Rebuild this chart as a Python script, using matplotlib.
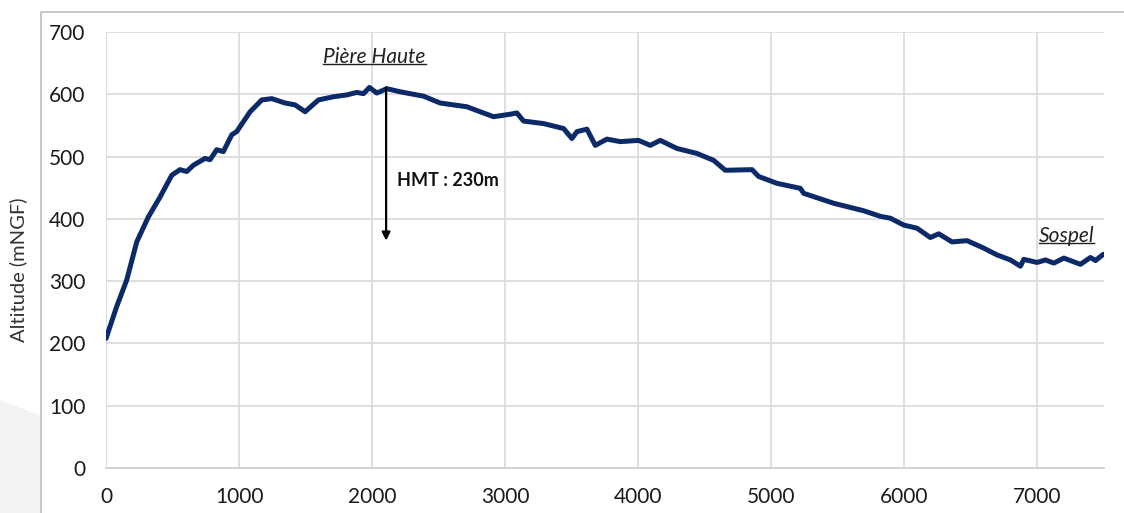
import matplotlib
matplotlib.use("Agg")
import matplotlib.pyplot as plt
from matplotlib.lines import Line2D
from matplotlib.patches import Polygon

plt.rcParams['font.family'] = ['Lato', 'DejaVu Sans']

# Longitudinal profile: distance (m) and altitude (mNGF)
distance = [0, 80, 156, 231, 318, 406, 494, 556, 607, 656, 744, 782, 832, 882,
            945, 982, 1083, 1171, 1246, 1346, 1421, 1496, 1597, 1709, 1810,
            1885, 1935, 1980, 2035, 2110, 2211, 2386, 2511, 2712, 2912, 3038,
            3088, 3138, 3288, 3439, 3501, 3539, 3614, 3677, 3764, 3865, 4002,
            4090, 4165, 4291, 4441, 4566, 4654, 4855, 4905, 5043, 5218, 5243,
            5469, 5694, 5820, 5895, 5995, 6095, 6195, 6258, 6358, 6471, 6596,
            6697, 6797, 6872, 6897, 6997, 7060, 7123, 7198, 7323, 7398, 7436,
            7494]
altitude = [208, 259, 302, 363, 403, 435, 470, 479, 476, 486, 497, 495, 511, 508,
            535, 540, 572, 591, 593, 586, 583, 572, 591, 596, 599,
            603, 601, 611, 602, 609, 604, 597, 586, 580, 564, 568,
            570, 557, 553, 545, 529, 540, 544, 518, 528, 524, 526,
            518, 526, 513, 505, 494, 478, 479, 468, 457, 449, 441,
            425, 413, 404, 401, 390, 385, 370, 376, 363, 365, 353,
            342, 334, 324, 335, 330, 334, 329, 337, 327, 338, 333,
            343]

x_ticks = [0, 1000, 2000, 3000, 4000, 5000, 6000, 7000]
y_ticks = [0, 100, 200, 300, 400, 500, 600, 700]

hmt_x = 2105
hmt_top = 611
hmt_bottom = 365
hmt_label = "HMT : 230m"
summit_label = "Pière Haute"
end_label = "Sospel"

fig = plt.figure(figsize=(11.24, 5.13), dpi=100)
ax = fig.add_axes([106 / 1124, 1 - 468 / 513, 998 / 1124, 436 / 513])

# Background decoration and chart frame
fig.patches.append(Polygon([[0, 1 - 400 / 513], [41 / 1124, 1 - 416 / 513],
                            [41 / 1124, 0], [0, 0]], closed=True,
                           transform=fig.transFigure, facecolor='#f3f3f3',
                           edgecolor='none', zorder=0))
fig.lines.append(Line2D([41 / 1124, 41 / 1124, 1.0], [0, 1 - 12 / 513, 1 - 12 / 513],
                        transform=fig.transFigure, color='#bfbfbf', lw=1.2))

ax.plot(distance, altitude, color='#0c2a68', lw=3.6, solid_joinstyle='round',
        solid_capstyle='round', zorder=3)

ax.set_xlim(0, 7500)
ax.set_ylim(0, 700)
ax.set_xticks(x_ticks)
ax.set_yticks(y_ticks)
ax.tick_params(axis='both', length=0, labelsize=15, colors='#1a1a1a')
ax.tick_params(axis='x', pad=14)
ax.tick_params(axis='y', pad=15)
ax.grid(True, color='#d9d9d9', lw=1.2)
ax.set_axisbelow(True)
for side in ['left', 'right', 'top']:
    ax.spines[side].set_visible(False)
ax.spines['bottom'].set_color('#d0d0d0')
ax.spines['bottom'].set_linewidth(1.3)
ax.set_ylabel("Altitude (mNGF)", fontsize=14.5, color='#333333')
ax.yaxis.set_label_coords(-79 / 998, 0.455)

# Head difference arrow
ax.annotate("", xy=(hmt_x, hmt_bottom), xytext=(hmt_x, hmt_top),
            arrowprops=dict(arrowstyle='-|>', color='black', lw=1.6,
                            mutation_scale=12, shrinkA=0, shrinkB=0), zorder=4)
ax.text(2188, 461, hmt_label, fontsize=13, fontweight='bold', va='center',
        ha='left', color='#111111')

t1 = ax.text(2019, 660, summit_label, fontsize=15, style='italic',
             ha='center', va='center', color='#222222')
t2 = ax.text(7218, 372, end_label, fontsize=15, style='italic',
             ha='center', va='center', color='#222222')

# Underline the place names
fig.canvas.draw()
renderer = fig.canvas.get_renderer()
inv = fig.transFigure.inverted()
for t in (t1, t2):
    bb = t.get_window_extent(renderer)
    (x0, y0), (x1, _) = inv.transform([[bb.x0, bb.y0], [bb.x1, bb.y1]])
    fig.lines.append(Line2D([x0, x1], [y0 + 0.006, y0 + 0.006],
                            transform=fig.transFigure, color='#222222', lw=1.0))

fig.savefig("out.png", dpi=100)
